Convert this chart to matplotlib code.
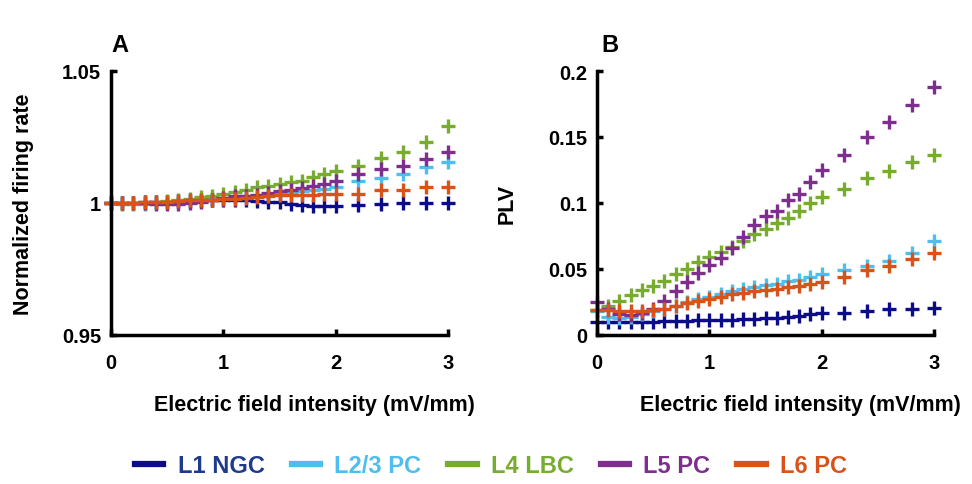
import matplotlib
matplotlib.use('Agg')
from matplotlib import pyplot as plt

plt.rcParams['font.family'] = ['Liberation Sans', 'DejaVu Sans']
plt.rcParams['font.weight'] = 'bold'

# field intensity (mV/mm)
field = [0.0, 0.1, 0.2, 0.3, 0.4, 0.5, 0.6, 0.7, 0.8, 0.9, 1.0,
         1.1, 1.2, 1.3, 1.4, 1.5, 1.6, 1.7, 1.8, 1.9, 2.0,
         2.2, 2.4, 2.6, 2.8, 3.0]

names = ['L1 NGC', 'L2/3 PC', 'L4 LBC', 'L5 PC', 'L6 PC']
colors = ['#0c0c8a', '#4dbeee', '#77ac30', '#7e2f8e', '#d95319']
text_colors = ['#1f3a8a', '#4dbeee', '#77ac30', '#7e2f8e', '#d95319']

# panel A - normalized firing rate
rate_l1 = [1.0, 1.0, 1.0, 1.0002, 1.0003, 1.0005, 1.0006, 1.0008, 1.0009, 1.001, 1.0012,
           1.0012, 1.0011, 1.0008, 1.0005, 1.0002, 0.9996, 0.9992, 0.999, 0.999, 0.999,
           0.9994, 0.9997, 1.0, 1.0, 1.0001]
rate_l23 = [1.0, 1.0, 0.9998, 0.9998, 1.0, 1.0002, 1.0004, 1.0008, 1.001, 1.0014, 1.0018,
            1.002, 1.0024, 1.0028, 1.0032, 1.0036, 1.004, 1.0044, 1.0048, 1.0053, 1.006,
            1.0085, 1.0093, 1.011, 1.0135, 1.0154]
rate_l4 = [1.0, 0.9998, 0.9999, 1.0, 1.0002, 1.0006, 1.001, 1.0015, 1.0022, 1.0028, 1.0034,
           1.004, 1.005, 1.006, 1.0066, 1.0072, 1.0078, 1.0085, 1.0097, 1.011, 1.0122,
           1.0141, 1.0169, 1.0194, 1.0232, 1.029]
rate_l5 = [1.0, 1.0, 0.9999, 1.0, 0.9998, 0.9996, 0.9998, 1.0, 1.0005, 1.001, 1.002,
           1.0025, 1.0028, 1.0032, 1.0038, 1.0044, 1.005, 1.0056, 1.0066, 1.0072, 1.0085,
           1.011, 1.013, 1.0141, 1.0167, 1.0192]
rate_l6 = [1.0, 1.0, 1.0001, 1.0002, 1.0003, 1.0005, 1.0008, 1.001, 1.0012, 1.0013, 1.0015,
           1.0017, 1.002, 1.0022, 1.0025, 1.003, 1.003, 1.0031, 1.0032, 1.0033, 1.0034,
           1.0034, 1.005, 1.005, 1.006, 1.006]

# panel B - PLV
plv_l1 = [0.0096, 0.0097, 0.0098, 0.0099, 0.010, 0.0102, 0.0104, 0.0106, 0.0108, 0.011, 0.0112,
          0.0114, 0.0117, 0.012, 0.0124, 0.0128, 0.0132, 0.0138, 0.0146, 0.0156, 0.0167,
          0.017, 0.018, 0.0197, 0.020, 0.0205]
plv_l23 = [0.018, 0.014, 0.013, 0.014, 0.016, 0.018, 0.020, 0.022, 0.025, 0.027, 0.029,
           0.031, 0.033, 0.035, 0.036, 0.038, 0.039, 0.041, 0.042, 0.044, 0.046,
           0.049, 0.052, 0.056, 0.062, 0.0715]
plv_l4 = [0.019, 0.022, 0.026, 0.030, 0.034, 0.037, 0.041, 0.046, 0.050, 0.055, 0.059,
          0.063, 0.067, 0.0715, 0.0765, 0.080, 0.085, 0.0886, 0.094, 0.100, 0.1048,
          0.1106, 0.119, 0.1245, 0.131, 0.136]
plv_l5 = [0.025, 0.020, 0.016, 0.015, 0.017, 0.020, 0.026, 0.0335, 0.040, 0.047, 0.053,
          0.058, 0.066, 0.074, 0.083, 0.090, 0.094, 0.102, 0.107, 0.116, 0.125,
          0.136, 0.150, 0.161, 0.1745, 0.188]
plv_l6 = [0.019, 0.019, 0.018, 0.018, 0.018, 0.019, 0.020, 0.022, 0.024, 0.026, 0.027,
          0.029, 0.031, 0.032, 0.033, 0.034, 0.035, 0.036, 0.037, 0.039, 0.040,
          0.0437, 0.0495, 0.052, 0.0576, 0.062]

rates = [rate_l1, rate_l23, rate_l4, rate_l5, rate_l6]
plvs = [plv_l1, plv_l23, plv_l4, plv_l5, plv_l6]

fig = plt.figure(figsize=(9.72, 4.85), dpi=100)
axA = fig.add_axes([111/972, 1-336/485, 337/972, 264/485])
axB = fig.add_axes([597/972, 1-336/485, 337/972, 264/485])

for ax, series in ((axA, rates), (axB, plvs)):
    for vals, c, n in zip(series, colors, names):
        ax.plot(field, vals, linestyle='none', marker='+', markersize=10.5,
                markeredgewidth=2.4, color=c, label=n, clip_on=False)
    for s in ['top', 'right']:
        ax.spines[s].set_visible(False)
    for s in ['left', 'bottom']:
        ax.spines[s].set_linewidth(2.5)
    ax.tick_params(direction='in', width=2.5, length=4, labelsize=14.5)
    ax.tick_params(axis='x', pad=13)
    ax.tick_params(axis='y', pad=7)
    ax.set_xlim(0, 3)
    ax.set_xticks([0, 1, 2, 3])
    ax.set_xticklabels(['0', '1', '2', '3'], fontweight='bold')
    ax.set_xlabel('Electric field intensity (mV/mm)', fontsize=15.5, fontweight='bold')
    ax.xaxis.set_label_coords(0.605, -0.225)

axA.set_ylim(0.95, 1.05)
axA.set_yticks([0.95, 1.0, 1.05])
axA.set_yticklabels(['0.95', '1', '1.05'], fontweight='bold')
axA.set_ylabel('Normalized firing rate', fontsize=15.5, fontweight='bold', labelpad=20)

axB.set_ylim(0, 0.2)
axB.set_yticks([0, 0.05, 0.1, 0.15, 0.2])
axB.set_yticklabels(['0', '0.05', '0.1', '0.15', '0.2'], fontweight='bold')
axB.set_ylabel('PLV', fontsize=15.5, fontweight='bold', labelpad=22)

fig.text(120/972, 1-45/485, 'A', fontsize=17, fontweight='bold', va='center', ha='center')
fig.text(610/972, 1-45/485, 'B', fontsize=17, fontweight='bold', va='center', ha='center')

handles = [plt.Line2D([], [], color=c, linewidth=4.5) for c in colors]
leg = fig.legend(handles, names, loc='center', bbox_to_anchor=(491/972, 1-467/485), ncol=5,
                 frameon=False, fontsize=17, handlelength=1.2, columnspacing=1.15, handletextpad=0.6)
for t, c in zip(leg.get_texts(), text_colors):
    t.set_color(c)
    t.set_fontweight('bold')

fig.savefig('out.png', dpi=100)
